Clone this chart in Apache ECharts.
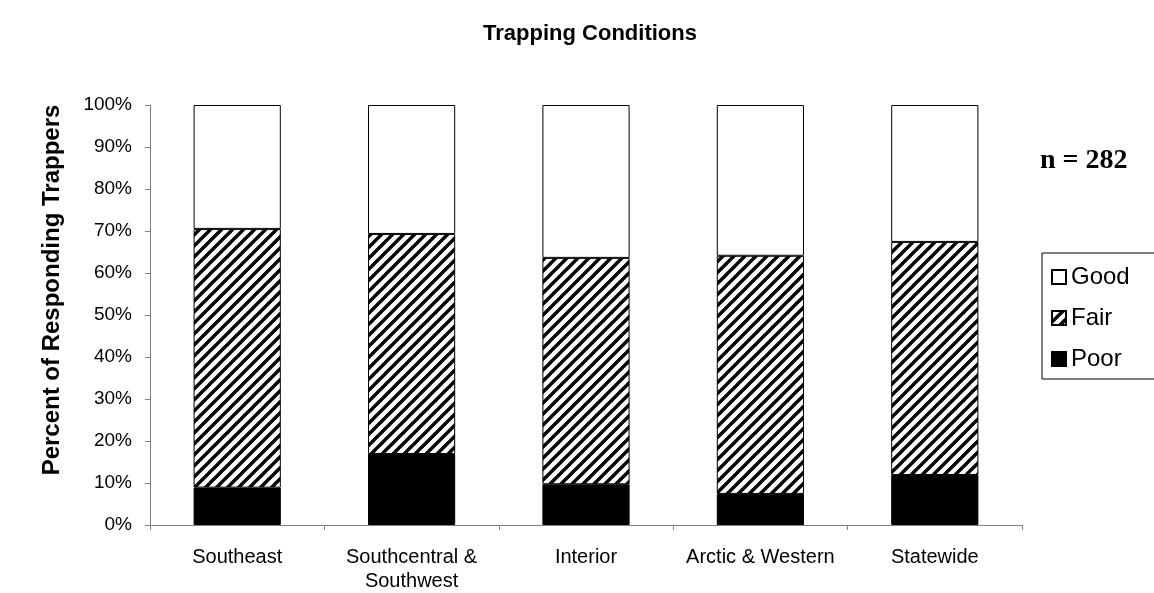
<!DOCTYPE html>
<html><head><meta charset="utf-8">
<script src="https://cdn.jsdelivr.net/npm/echarts@6/dist/echarts.min.js"></script>
<style>html,body{margin:0;padding:0;background:#fff}#c{width:1154px;height:593px}</style>
</head><body><div id="c"></div>
<script>
const categories = ['Southeast', 'Southcentral &\nSouthwest', 'Interior', 'Arctic & Western', 'Statewide'];
const poor = [8.9, 16.9, 9.7, 7.4, 11.9];
const fair = [61.6, 52.4, 53.9, 56.7, 55.5];
const good = [29.5, 30.7, 36.4, 35.9, 32.6];
const yTicks = [0, 10, 20, 30, 40, 50, 60, 70, 80, 90, 100];

function hatch() {
  const s = 11;
  const c = document.createElement('canvas');
  c.width = s; c.height = s;
  const g = c.getContext('2d');
  g.fillStyle = '#fff'; g.fillRect(0, 0, s, s);
  g.strokeStyle = '#000'; g.lineWidth = 3.4;
  g.beginPath();
  g.moveTo(-2, s + 2); g.lineTo(s + 2, -2);
  g.moveTo(-2, 2); g.lineTo(2, -2);
  g.moveTo(s - 2, s + 2); g.lineTo(s + 2, s - 2);
  g.stroke();
  return { image: c, repeat: 'repeat' };
}

const chart = echarts.init(document.getElementById('c'), null, { renderer: 'canvas' });
const font = 'Arial, "Liberation Sans", sans-serif';
chart.setOption({
  backgroundColor: '#fff',
  animation: false,
  title: {
    text: 'Trapping Conditions', left: 585, top: 18, textAlign: 'center',
    textStyle: { fontFamily: font, fontWeight: 'bold', fontSize: 22, color: '#000' }
  },
  graphic: [{
    type: 'text', left: 1040, top: 147,
    style: { text: 'n = 282', font: 'bold 28px "Liberation Serif", "Times New Roman", serif', fill: '#000' }
  }, {
    type: 'text', x: 52, y: 290, rotation: Math.PI / 2,
    style: { text: 'Percent of Responding Trappers', font: 'bold 24px Arial, "Liberation Sans", sans-serif',
      fill: '#000', align: 'center', verticalAlign: 'middle' }
  }],
  legend: {
    orient: 'vertical', left: 1042, top: 253,
    data: ['Good', 'Fair', 'Poor'],
    borderColor: '#000', borderWidth: 1, borderRadius: 0,
    padding: [10, 30, 6, 9],
    itemWidth: 14, itemHeight: 14, itemGap: 13,
    icon: 'rect',
    textStyle: { fontFamily: font, fontSize: 24, color: '#000', lineHeight: 28, padding: [0, 0, 0, 0] }
  },
  grid: { left: 150, right: 132, top: 105, bottom: 68, containLabel: false },
  xAxis: {
    type: 'category', data: categories,
    axisLine: { lineStyle: { color: '#808080', width: 1 } },
    axisTick: { show: true, length: 5, lineStyle: { color: '#808080' } },
    axisLabel: { fontFamily: font, fontSize: 20, color: '#000', margin: 20, lineHeight: 24, interval: 0 }
  },
  yAxis: {
    type: 'value', min: yTicks[0], max: yTicks[yTicks.length - 1], interval: 10,
    axisLine: { show: true, lineStyle: { color: '#808080', width: 1 } },
    axisTick: { show: true, length: 5, lineStyle: { color: '#808080' } },
    splitLine: { show: false },
    axisLabel: { fontFamily: font, fontSize: 19, color: '#000', margin: 18, formatter: v => v + '%' }
  },
  series: [
    { name: 'Poor', type: 'bar', stack: 'a', data: poor, barWidth: '50%',
      itemStyle: { color: '#000', borderColor: '#000', borderWidth: 1 } },
    { name: 'Fair', type: 'bar', stack: 'a', data: fair, barWidth: '50%',
      itemStyle: { color: hatch(), borderColor: '#000', borderWidth: 1 } },
    { name: 'Good', type: 'bar', stack: 'a', data: good, barWidth: '50%',
      itemStyle: { color: '#fff', borderColor: '#000', borderWidth: 1 } }
  ]
});
</script></body></html>
